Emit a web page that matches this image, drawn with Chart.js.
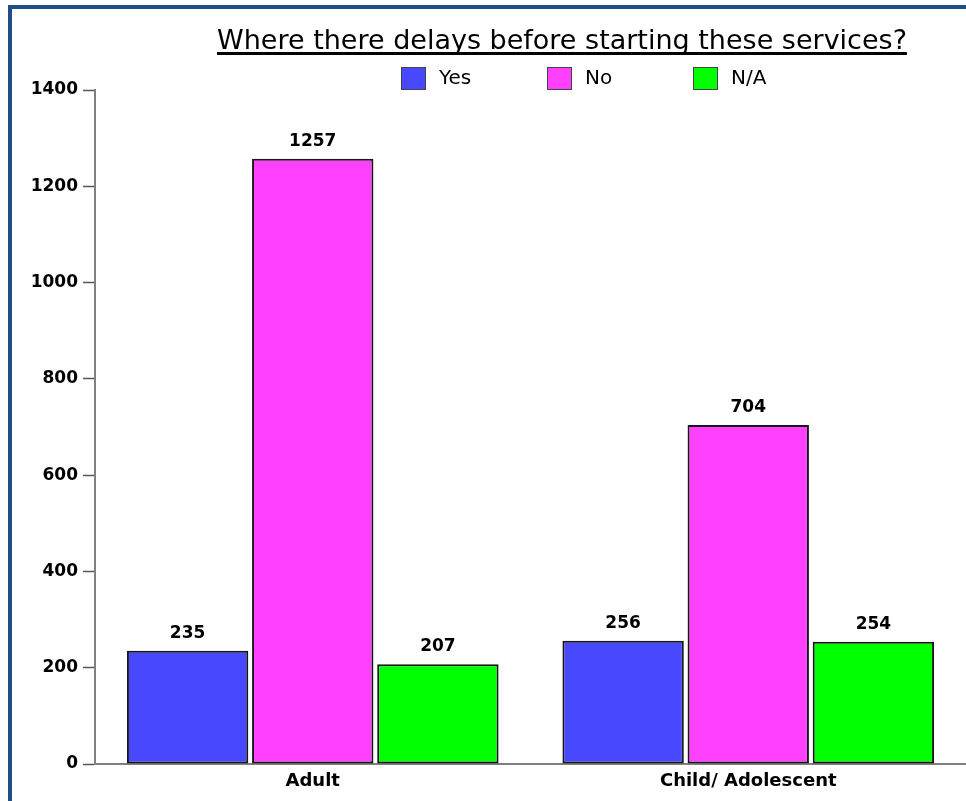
<!DOCTYPE html>
<html lang="en">

<head>
  <meta charset="UTF-8">
  <title>Delays before starting services</title>
  <script src="https://cdn.jsdelivr.net/npm/chart.js"></script>
  <style>
    body { margin: 0; background: #fff; }
    #frame { position: absolute; left: 8px; top: 5px; right: 0; bottom: 0;
             border-left: 4px solid #1f4e85; border-top: 4px solid #1f4e85; }
    #wrap { position: absolute; left: 0; top: 0; width: 966px; height: 801px; }
  </style>
</head>

<body>
  <div id="frame"></div>
  <div id="wrap"><canvas id="delay-chart" width="966" height="801"></canvas></div>

  <script>
    // survey answers per client group
    var categories = ['Adult', 'Child/ Adolescent'];
    var seriesLabels = ['Yes', 'No', 'N/A'];
    var yesValues = [235, 256];
    var noValues = [1257, 704];
    var naValues = [207, 254];
    var seriesColors = ['#4848ff', '#ff40ff', '#00ff00'];
    var titleText = 'Where there delays before starting these services?';

    // title with underline
    var titlePlugin = {
      id: 'underlinedTitle',
      afterDraw(chart) {
        let ctx = chart.ctx;
        ctx.save();
        ctx.font = '27px "DejaVu Sans"';
        ctx.fillStyle = '#000';
        ctx.textAlign = 'center';
        ctx.textBaseline = 'alphabetic';
        let cx = 562;
        ctx.fillText(titleText, cx, 49);
        let w = ctx.measureText(titleText).width;
        ctx.fillRect(cx - w / 2, 52, w, 3);
        ctx.restore();
      }
    };

    // legend with evenly spaced items
    var legendPlugin = {
      id: 'spacedLegend',
      afterDraw(chart) {
        let ctx = chart.ctx;
        ctx.save();
        ctx.font = '20px "DejaVu Sans"';
        ctx.textBaseline = 'middle';
        chart.data.datasets.forEach(function (ds, i) {
          let x = 401 + i * 146;
          ctx.fillStyle = ds.backgroundColor;
          ctx.fillRect(x, 67, 25, 23);
          ctx.strokeStyle = '#444';
          ctx.lineWidth = 1;
          ctx.strokeRect(x + 0.5, 67.5, 24, 22);
          ctx.fillStyle = '#000';
          ctx.fillText(ds.label, x + 38, 79);
        });
        ctx.restore();
      }
    };

    // value printed over each bar
    var valuePlugin = {
      id: 'barValues',
      afterDatasetsDraw(chart) {
        let ctx = chart.ctx;
        ctx.save();
        ctx.font = 'bold 17px "DejaVu Sans"';
        ctx.fillStyle = '#000';
        ctx.textAlign = 'center';
        ctx.textBaseline = 'alphabetic';
        chart.data.datasets.forEach(function (ds, i) {
          chart.getDatasetMeta(i).data.forEach(function (bar, j) {
            ctx.fillText(ds.data[j], bar.x, bar.y - 13);
          });
        });
        ctx.restore();
      }
    };

    let DelayCtx = document.getElementById('delay-chart').getContext('2d');
    const chart = new Chart(DelayCtx, {
      type: 'bar',
      data: {
        labels: categories,
        datasets: [yesValues, noValues, naValues].map(function (vals, i) {
          return {
            label: seriesLabels[i],
            data: vals,
            backgroundColor: seriesColors[i],
            borderColor: '#151515',
            borderWidth: 2,
            borderSkipped: false,
            categoryPercentage: 0.862,
            barPercentage: 0.97
          };
        })
      },
      options: {
        responsive: false,
        animation: false,
        layout: { padding: { top: 90, left: 0, right: 0, bottom: 0 } },
        plugins: {
          legend: { display: false },
          title: { display: false },
          tooltip: { enabled: false }
        },
        scales: {
          x: {
            grid: { display: false, drawTicks: false },
            border: { display: true, color: '#808080', width: 2 },
            ticks: { color: '#000', padding: 7, font: { family: 'DejaVu Sans', size: 18, weight: 'bold' } },
            afterFit: function (s) { s.height = 37; }
          },
          y: {
            min: 0,
            max: 1400,
            ticks: {
              stepSize: 200, color: '#000', padding: 5,
              font: { family: 'DejaVu Sans', size: 17, weight: 'bold' },
              callback: function (v) { return String(v); }
            },
            grid: { drawOnChartArea: false, drawTicks: true, tickLength: 12, tickColor: '#555', tickWidth: 1.5 },
            border: { display: true, color: '#808080', width: 2 },
            afterFit: function (s) { s.width = 95; }
          }
        }
      },
      plugins: [titlePlugin, legendPlugin, valuePlugin]
    });
  </script>
</body>

</html>
